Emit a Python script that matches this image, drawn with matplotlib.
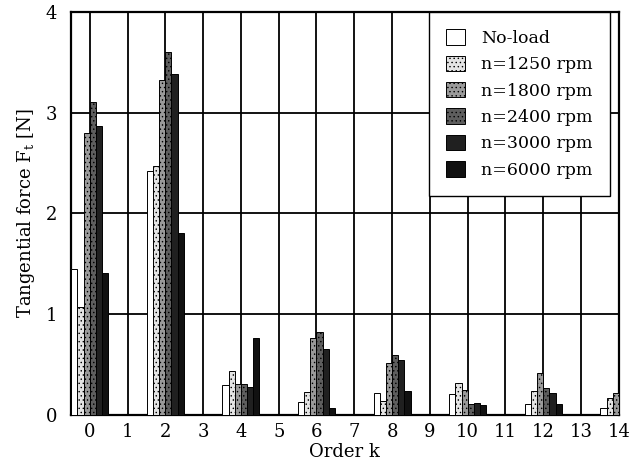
import matplotlib
matplotlib.use("Agg")
import matplotlib.pyplot as plt
import numpy as np

# harmonic orders with non-zero content (odd orders are zero)
orders = [0, 2, 4, 6, 8, 10, 12, 14]

no_load = [1.45, 2.42, 0.30, 0.13, 0.22, 0.21, 0.11, 0.07]
n1250 = [1.07, 2.47, 0.44, 0.23, 0.14, 0.32, 0.24, 0.17]
n1800 = [2.80, 3.32, 0.31, 0.76, 0.51, 0.25, 0.42, 0.22]
n2400 = [3.10, 3.60, 0.31, 0.82, 0.59, 0.11, 0.27, 0.25]
n3000 = [2.87, 3.38, 0.28, 0.65, 0.54, 0.12, 0.22, 0.20]
n6000 = [1.41, 1.80, 0.76, 0.07, 0.235, 0.10, 0.11, 0.10]

labels = ["No-load", "n=1250 rpm", "n=1800 rpm", "n=2400 rpm", "n=3000 rpm", "n=6000 rpm"]
series = [no_load, n1250, n1800, n2400, n3000, n6000]
faces = ["white", "#e4e4e4", "#9a9a9a", "#5e5e5e", "#202020", "#111111"]
hatches = [None, "....", "....", "....", None, None]

plt.rcParams["font.family"] = "DejaVu Serif"
plt.rcParams["mathtext.fontset"] = "dejavuserif"
plt.rcParams["hatch.linewidth"] = 0.5

fig = plt.figure(figsize=(6.38, 4.72), dpi=100)
ax = fig.add_axes([0.111, 0.121, 0.859, 0.854])

x = np.array(orders, dtype=float)
w = 0.163
for i, (vals, lab) in enumerate(zip(series, labels)):
    ax.bar(x + (i - 2.5) * w, vals, width=w, color=faces[i], edgecolor="black",
           linewidth=0.7, hatch=hatches[i], label=lab, zorder=3)

ax.set_xlim(-0.5, 14)
ax.set_ylim(0, 4)
ax.set_xticks(range(15))
ax.set_yticks(range(5))
ax.tick_params(length=0, labelsize=13)
ax.tick_params(axis="x", pad=6)
ax.tick_params(axis="y", pad=10)
ax.grid(True, color="black", linewidth=1.3, zorder=1)
ax.set_axisbelow(True)
for s in ax.spines.values():
    s.set_linewidth(1.6)

ax.set_xlabel("Order k", fontsize=13, labelpad=1)
ax.set_ylabel(r"Tangential force F$_\mathrm{t}$ [N]", fontsize=13, labelpad=6)

leg = ax.legend(loc="upper right", bbox_to_anchor=(0.984, 1.0), borderaxespad=0,
                fontsize=12.5, fancybox=False, framealpha=1, edgecolor="black",
                handlelength=1.1, handleheight=1.0, labelspacing=0.5,
                handletextpad=0.9, borderpad=1.0)
leg.get_frame().set_linewidth(1.0)
leg.set_zorder(5)

fig.savefig("out.png", dpi=100)
